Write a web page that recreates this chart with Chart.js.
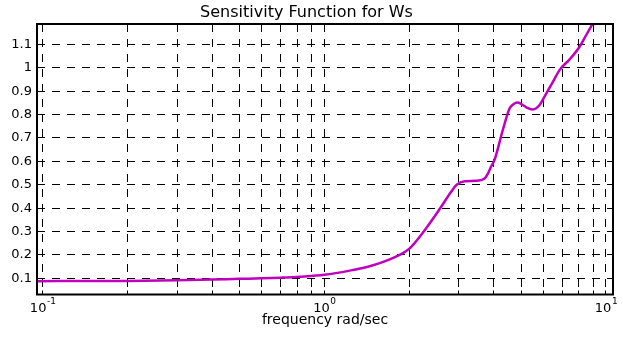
<!DOCTYPE html>
<html>
<head>
<meta charset="utf-8">
<title>Sensitivity Function for Ws</title>
<script src="https://cdn.jsdelivr.net/npm/chart.js@4.4.0/dist/chart.umd.min.js"></script>
<style>
  html, body { margin: 0; padding: 0; background: #fff; }
  #wrap { width: 623px; height: 338px; }
</style>
</head>
<body>
<div id="wrap"><canvas id="grafica" width="623" height="338"></canvas></div>
<script>
// |S(jw)| along the frequency axis (rad/sec)
const freq = [0.0955, 0.15, 0.2, 0.3, 0.4, 0.5, 0.6, 0.7, 0.817, 1.0,
  1.23, 1.48, 1.7, 1.85, 2.0, 2.23, 2.56, 2.82, 2.95, 3.15,
  3.45, 3.71, 3.8, 3.9, 4.02, 4.3, 4.55, 4.72, 4.86, 5.0, 5.21,
  5.5, 5.81, 6.14, 6.48, 6.84, 7.43, 8.06, 8.51, 9.11];
const mag = [0.088, 0.0885, 0.089, 0.092, 0.095, 0.098, 0.1, 0.103, 0.107, 0.115,
  0.133, 0.155, 0.18, 0.2, 0.226, 0.293, 0.394, 0.47, 0.5, 0.515,
  0.517, 0.527, 0.545, 0.575, 0.606, 0.733, 0.827, 0.846, 0.851, 0.845, 0.831,
  0.822, 0.841, 0.891, 0.94, 0.99, 1.036, 1.09, 1.14, 1.204];

// axis ticks
const yTicks = [0.1, 0.2, 0.3, 0.4, 0.5, 0.6, 0.7, 0.8, 0.9, 1.0, 1.1];
const xGrid = [0.1, 0.2, 0.3, 0.4, 0.5, 0.6, 0.7, 0.8, 0.9,
  1, 2, 3, 4, 5, 6, 7, 8, 9, 10];
const xDecades = [0.1, 1, 10];
const xExponents = ["-1", "0", "1"];

const FONT = "DejaVu Sans";

// box, inward ticks and 10^n labels
const frame = {
  id: "frame",
  afterDraw(chart) {
    const { ctx, chartArea: a, scales } = chart;
    const x = scales.x, y = scales.y;
    const crisp = p => Math.round(p + 0.5) - 0.5;
    ctx.save();
    ctx.strokeStyle = "#000";
    ctx.lineWidth = 1;
    ctx.beginPath();
    yTicks.forEach(v => {
      const py = crisp(y.getPixelForValue(v));
      ctx.moveTo(a.left, py); ctx.lineTo(a.left + 5, py);
      ctx.moveTo(a.right, py); ctx.lineTo(a.right - 5, py);
    });
    xGrid.forEach(v => {
      const px = crisp(x.getPixelForValue(v));
      ctx.moveTo(px, a.bottom); ctx.lineTo(px, a.bottom - 4);
      ctx.moveTo(px, a.top); ctx.lineTo(px, a.top + 4);
    });
    ctx.stroke();

    ctx.lineWidth = 2;
    ctx.strokeRect(a.left, a.top, a.right - a.left, a.bottom - a.top);

    ctx.fillStyle = "#000";
    ctx.textBaseline = "middle";
    ctx.textAlign = "left";
    xDecades.forEach((d, i) => {
      const px = x.getPixelForValue(d);
      ctx.font = "13px '" + FONT + "'";
      const wb = ctx.measureText("10").width;
      ctx.font = "9px '" + FONT + "'";
      const we = ctx.measureText(xExponents[i]).width;
      const x0 = px - (wb + we) / 2;
      ctx.font = "13px '" + FONT + "'";
      ctx.fillText("10", x0, 309);
      ctx.font = "9px '" + FONT + "'";
      ctx.fillText(xExponents[i], x0 + wb + 0.5, 302);
    });
    ctx.restore();
  }
};

new Chart(document.getElementById("grafica"), {
  type: "line",
  data: {
    datasets: [{
      data: freq.map((f, i) => ({ x: f, y: mag[i] })),
      borderColor: "#bf00bf",
      borderWidth: 2.5,
      pointRadius: 0,
      fill: false,
      cubicInterpolationMode: "monotone"
    }]
  },
  options: {
    responsive: false,
    animation: false,
    layout: { padding: { left: 0, right: 10, top: 0, bottom: 0 } },
    plugins: {
      legend: { display: false },
      tooltip: { enabled: false },
      title: {
        display: true,
        text: "Sensitivity Function for Ws",
        color: "#000",
        font: { family: FONT, size: 16, weight: "normal" },
        padding: { top: 2.9, bottom: 1.9 }
      }
    },
    scales: {
      x: {
        type: "logarithmic",
        min: 0.0955,
        max: 10.59,
        afterBuildTicks: s => { s.ticks = xGrid.map(v => ({ value: v })); },
        afterFit: s => { s.height = 43.5; },
        ticks: { display: false },
        grid: { color: "#000", lineWidth: 1, drawTicks: false },
        border: { display: false, dash: [8, 7] },
        title: {
          display: true,
          text: "frequency rad/sec",
          color: "#000",
          font: { family: FONT, size: 14 },
          padding: { top: 0, bottom: 9.6 }
        }
      },
      y: {
        min: 0.031,
        max: 1.187,
        afterBuildTicks: s => { s.ticks = yTicks.map(v => ({ value: v })); },
        afterFit: s => { s.width = 37; },
        ticks: {
          color: "#000",
          padding: 5,
          font: { family: FONT, size: 13 },
          callback: v => String(Math.round(v * 10) / 10)
        },
        grid: { color: "#000", lineWidth: 1, drawTicks: false },
        border: { display: false, dash: [8, 7] }
      }
    }
  },
  plugins: [frame]
});
</script>
</body>
</html>
